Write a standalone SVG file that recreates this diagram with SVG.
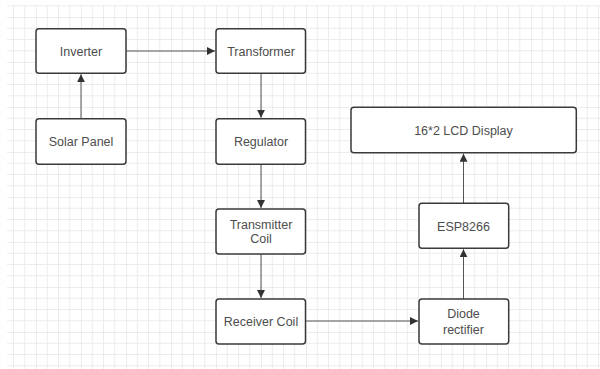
<svg xmlns="http://www.w3.org/2000/svg" width="600" height="369" viewBox="0 0 600 369">
<style>
.box{fill:#ffffff;stroke:#3a3a3a;stroke-width:1.5}
.lbl{font-family:"Liberation Sans",Arial,sans-serif;font-size:12.5px;fill:#4d4d4d;text-anchor:middle}
.edge{stroke:#555555;stroke-width:1;fill:none;marker-end:url(#arr)}
</style>
<defs>
<pattern id="grid" patternUnits="userSpaceOnUse" x="36" y="17" width="45" height="45">
<path d="M11.25 0V45M22.5 0V45M33.75 0V45M0 11.25H45M0 22.5H45M0 33.75H45" stroke="#ececec" stroke-width="1" fill="none"/>
<path d="M0 0V45M0 0H45" stroke="#dcdcdc" stroke-width="1" fill="none"/>
</pattern>
<marker id="arr" viewBox="0 0 10 10" refX="10" refY="5" markerWidth="8" markerHeight="8" markerUnits="userSpaceOnUse" orient="auto">
<path d="M0 0L10 5L0 10Z" fill="#333333"/>
</marker>
</defs>
<rect width="600" height="369" fill="#ffffff"/>
<rect x="7" y="5" width="593" height="364" fill="url(#grid)"/>
<g id="connectors">
<path class="edge" d="M126 51H215"/>
<path class="edge" d="M81 118.7V74.3"/>
<path class="edge" d="M261 73.3V117.7"/>
<path class="edge" d="M261 164.3V208"/>
<path class="edge" d="M261 254V298"/>
<path class="edge" d="M306 321H418"/>
<path class="edge" d="M463.5 299V249.3"/>
<path class="edge" d="M463.5 203.3V153.7"/>
</g>
<g id="inverter"><rect class="box" x="36" y="28.7" width="90" height="44.6" rx="3"/><text class="lbl" x="81" y="55.5">Inverter</text></g>
<g id="solar-panel"><rect class="box" x="36" y="118.7" width="90" height="45.6" rx="3"/><text class="lbl" x="81" y="146">Solar Panel</text></g>
<g id="transformer"><rect class="box" x="216" y="28.7" width="89.5" height="44.6" rx="3"/><text class="lbl" x="261" y="55.5">Transformer</text></g>
<g id="regulator"><rect class="box" x="216" y="118.7" width="89.5" height="45.6" rx="3"/><text class="lbl" x="261" y="146">Regulator</text></g>
<g id="transmitter-coil"><rect class="box" x="216" y="209" width="89.5" height="45" rx="3"/><text class="lbl" x="261" y="228.5">Transmitter</text><text class="lbl" x="261" y="243">Coil</text></g>
<g id="receiver-coil"><rect class="box" x="216" y="299" width="89.5" height="45" rx="3"/><text class="lbl" x="261" y="326">Receiver Coil</text></g>
<g id="lcd-display"><rect class="box" x="351" y="107.3" width="225.3" height="45.4" rx="3"/><text class="lbl" x="463.5" y="134.5">16*2 LCD Display</text></g>
<g id="esp8266"><rect class="box" x="419" y="203.3" width="89.7" height="45" rx="3"/><text class="lbl" x="463.5" y="230.5">ESP8266</text></g>
<g id="diode-rectifier"><rect class="box" x="419" y="299" width="89.7" height="45" rx="3"/><text class="lbl" x="463.5" y="318">Diode</text><text class="lbl" x="463.5" y="333.5">rectifier</text></g>
</svg>
